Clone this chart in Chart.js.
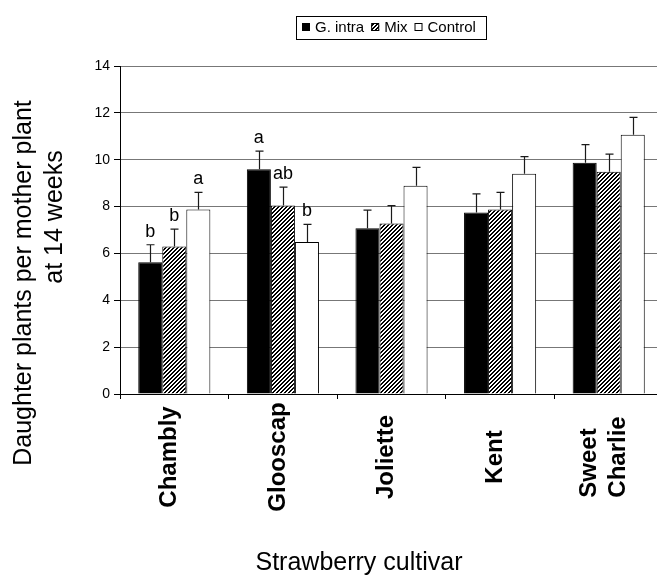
<!DOCTYPE html>
<html>
<head>
<meta charset="utf-8">
<script src="https://cdn.jsdelivr.net/npm/chart.js@4.4.1/dist/chart.umd.min.js"></script>
<style>
html, body { margin: 0; padding: 0; background: #fff; overflow: hidden; }
#wrap { width: 657px; height: 578px; overflow: hidden; position: relative; }
canvas { display: block; }
</style>
</head>
<body>
<div id="wrap"><canvas id="c" width="663" height="578" style="width:663px;height:578px"></canvas></div>
<script>
// Strawberry cultivars and daughter-plant counts (means with standard errors)
const cultivars = ['Chambly', 'Glooscap', 'Joliette', 'Kent', ['Sweet', 'Charlie']];
const seriesNames = ['G. intra', 'Mix', 'Control'];
const intraMeans   = [5.62, 9.59, 7.07, 7.75, 9.87];
const mixMeans     = [6.30, 8.05, 7.28, 7.87, 9.49];
const controlMeans = [7.87, 6.49, 8.89, 9.40, 11.07];
const intraErr   = [0.75, 0.78, 0.78, 0.79, 0.77];
const mixErr     = [0.74, 0.78, 0.76, 0.74, 0.75];
const controlErr = [0.74, 0.75, 0.78, 0.73, 0.74];
// Significance letters within each cultivar
const intraLetters   = ['b', 'a', '', '', ''];
const mixLetters     = ['b', 'ab', '', '', ''];
const controlLetters = ['a', 'b', '', '', ''];
const yTicks = [0, 2, 4, 6, 8, 10, 12, 14];
const yTitle = ['Daughter plants per mother plant', 'at 14 weeks'];
const xTitle = 'Strawberry cultivar';

const FONT = '"Liberation Sans", Arial, Helvetica, sans-serif';
const canvas = document.getElementById('c');
const ctx0 = canvas.getContext('2d');

// Diagonal black/white hatch for the Mix treatment
function makeHatch() {
  const n = 4;
  const tile = document.createElement('canvas');
  tile.width = n; tile.height = n;
  const g = tile.getContext('2d');
  const img = g.createImageData(n, n);
  for (let y = 0; y < n; y++) {
    for (let x = 0; x < n; x++) {
      const k = (y * n + x) * 4;
      const v = ((x + y) % n) < 2 ? 0 : 255;
      img.data[k] = v; img.data[k + 1] = v; img.data[k + 2] = v; img.data[k + 3] = 255;
    }
  }
  g.putImageData(img, 0, 0);
  return ctx0.createPattern(tile, 'repeat');
}
const hatch = makeHatch();

const decorations = {
  id: 'decorations',
  afterDatasetsDraw(chart) {
    const ctx = chart.ctx;
    const ys = chart.scales.y;
    chart.data.datasets.forEach((ds, di) => {
      const meta = chart.getDatasetMeta(di);
      meta.data.forEach((bar, i) => {
        const top = ys.getPixelForValue(ds.data[i] + ds.err[i]);
        const x = Math.round(bar.x) + 0.5;
        ctx.save();
        ctx.strokeStyle = '#1a1a1a';
        ctx.lineWidth = 1.2;
        ctx.beginPath();
        ctx.moveTo(x, bar.y);
        ctx.lineTo(x, top);
        ctx.moveTo(x - 4, top);
        ctx.lineTo(x + 4, top);
        ctx.stroke();
        const letter = ds.letters[i];
        if (letter) {
          ctx.font = '18px ' + FONT;
          ctx.fillStyle = '#000';
          ctx.textAlign = 'center';
          ctx.textBaseline = 'alphabetic';
          ctx.fillText(letter, bar.x, top - 8);
        }
        ctx.restore();
      });
    });
  },
  afterDraw(chart) {
    const ctx = chart.ctx;
    const xs = chart.scales.x;
    ctx.save();
    ctx.fillStyle = '#000';

    // Rotated cultivar names
    ctx.font = 'bold 24px ' + FONT;
    chart.data.labels.forEach((lbl, i) => {
      const lines = Array.isArray(lbl) ? lbl : [lbl];
      const maxW = Math.max(...lines.map(s => ctx.measureText(s).width));
      ctx.save();
      ctx.translate(xs.getPixelForValue(i) - 5, 457);
      ctx.rotate(-Math.PI / 2);
      ctx.textAlign = 'left';
      ctx.textBaseline = 'middle';
      lines.forEach((s, j) => {
        ctx.fillText(s, -maxW / 2, (j - (lines.length - 1) / 2) * 29);
      });
      ctx.restore();
    });

    // Axis titles
    ctx.font = '25px ' + FONT;
    ctx.textAlign = 'center';
    ctx.textBaseline = 'alphabetic';
    ctx.fillText(xTitle, 359, 570);
    const baseX = [31, 62];
    const midY = [283, 217];
    yTitle.forEach((s, j) => {
      ctx.save();
      ctx.translate(baseX[j], midY[j]);
      ctx.rotate(-Math.PI / 2);
      ctx.fillText(s, 0, 0);
      ctx.restore();
    });

    // Boxed legend
    ctx.font = '15px ' + FONT;
    ctx.textAlign = 'left';
    let x = 302;
    chart.data.datasets.forEach((ds) => {
      ctx.fillStyle = ds.backgroundColor;
      ctx.fillRect(x, 23, 8, 8);
      ctx.strokeStyle = '#000';
      ctx.lineWidth = 1;
      ctx.strokeRect(x + 0.5, 23.5, 7, 7);
      x += 13;
      ctx.fillStyle = '#000';
      ctx.fillText(ds.label, x, 31.5);
      x += ctx.measureText(ds.label).width + 7;
    });
    const right = x - 7 + 10;
    ctx.strokeStyle = '#000';
    ctx.lineWidth = 1;
    ctx.strokeRect(296.5, 16.5, Math.round(right - 296), 23);
    ctx.restore();
  }
};

new Chart(canvas, {
  type: 'bar',
  data: {
    labels: cultivars,
    datasets: [
      { label: seriesNames[0], data: intraMeans, err: intraErr, letters: intraLetters,
        backgroundColor: '#000', borderColor: '#000', borderWidth: 1 },
      { label: seriesNames[1], data: mixMeans, err: mixErr, letters: mixLetters,
        backgroundColor: hatch, borderColor: '#000', borderWidth: 1 },
      { label: seriesNames[2], data: controlMeans, err: controlErr, letters: controlLetters,
        backgroundColor: '#fff', borderColor: '#000', borderWidth: 1 }
    ]
  },
  options: {
    responsive: false,
    animation: false,
    layout: { padding: { top: 66, left: 0, right: 0, bottom: 0 } },
    datasets: { bar: { categoryPercentage: 0.664, barPercentage: 1.0 } },
    plugins: { legend: { display: false }, tooltip: { enabled: false }, title: { display: false } },
    scales: {
      x: {
        offset: true,
        grid: { offset: true, drawOnChartArea: false, drawTicks: true, tickLength: 5, tickColor: '#000' },
        border: { color: '#000', width: 1 },
        ticks: { display: false },
        afterFit(s) { s.height = 184; }
      },
      y: {
        min: 0, max: 14,
        afterBuildTicks(s) { s.ticks = yTicks.map(v => ({ value: v })); },
        ticks: { font: { family: FONT, size: 14 }, color: '#000', padding: 4 },
        grid: { color: '#777777', tickColor: '#000', tickLength: 6, drawTicks: true },
        border: { color: '#000', width: 1 },
        afterFit(s) { s.width = 120; }
      }
    }
  },
  plugins: [decorations]
});
</script>
</body>
</html>
